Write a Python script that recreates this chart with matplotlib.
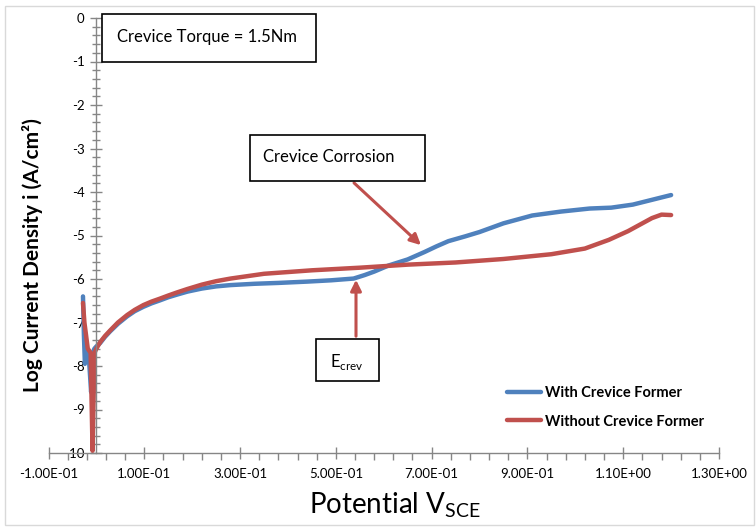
import numpy as np
import matplotlib.pyplot as plt
from matplotlib.patches import Rectangle, FancyArrowPatch
from matplotlib.ticker import MultipleLocator, FixedLocator, FuncFormatter

plt.rcParams['font.family'] = ['Lato', 'DejaVu Sans']
plt.rcParams['axes.unicode_minus'] = False

# Potential (V vs SCE) and log current density readings
v_with = [-0.028, -0.026, -0.024, -0.020, -0.016, -0.011, -0.008, -0.004, 0.000,
          0.008, 0.018, 0.029, 0.045, 0.064, 0.08, 0.098, 0.115, 0.133, 0.15, 0.168,
          0.19, 0.22, 0.25, 0.28, 0.33, 0.38, 0.44, 0.49, 0.537,
          0.56, 0.58, 0.61, 0.65, 0.685, 0.71, 0.735, 0.77, 0.80, 0.85, 0.91, 0.97,
          1.03, 1.075, 1.12, 1.16, 1.20]
i_with = [-6.4, -7.3, -7.95, -7.6, -7.75, -8.6, -7.7, -7.6, -7.55,
          -7.47, -7.33, -7.2, -7.03, -6.86, -6.74, -6.64, -6.56, -6.49, -6.42, -6.36,
          -6.29, -6.22, -6.17, -6.14, -6.11, -6.09, -6.06, -6.03, -5.99,
          -5.91, -5.83, -5.69, -5.55, -5.38, -5.25, -5.13, -5.02, -4.92, -4.72, -4.54, -4.45,
          -4.38, -4.36, -4.29, -4.18, -4.07]

v_without = [-0.028, -0.025, -0.018, -0.012, -0.008, -0.004, 0.000, 0.008, 0.018,
             0.029, 0.045, 0.064, 0.08, 0.098, 0.115, 0.133, 0.15, 0.168, 0.19, 0.22,
             0.25, 0.28, 0.35, 0.45, 0.55, 0.65, 0.75, 0.85, 0.95, 1.02, 1.07, 1.11,
             1.14, 1.16, 1.18, 1.20]
i_without = [-6.55, -7.0, -7.6, -7.7, -9.95, -7.7, -7.6, -7.45, -7.31,
             -7.18, -7.0, -6.83, -6.71, -6.6, -6.52, -6.45, -6.38, -6.31, -6.23, -6.13,
             -6.05, -5.99, -5.88, -5.8, -5.74, -5.67, -5.62, -5.54, -5.43, -5.3, -5.1, -4.9,
             -4.72, -4.6, -4.52, -4.53]

series_labels = ['With Crevice Former', 'Without Crevice Former']
blue, red = '#4F81BD', '#C0504D'
axis_grey = '#868686'

W, H = 756, 527
fig = plt.figure(figsize=(W/100, H/100), dpi=100)
ax = fig.add_axes([48.5/W, 1-453/H, (719-48.5)/W, (453-18)/H])

def fx(px):
    return px / W

def fy(py):
    return 1 - py / H

ax.plot(v_with, i_with, color=blue, lw=3.2, solid_capstyle='round', solid_joinstyle='round',
        label=series_labels[0])
ax.plot(v_without, i_without, color=red, lw=3.2, solid_capstyle='round', solid_joinstyle='round',
        label=series_labels[1])

ax.set_xlim(-0.1, 1.3)
ax.set_ylim(-10, 0)
ax.spines['left'].set_position(('data', 0))
ax.spines['top'].set_visible(False)
ax.spines['right'].set_visible(False)
for s in ['left', 'bottom']:
    ax.spines[s].set_color(axis_grey)
    ax.spines[s].set_linewidth(1.0)

ax.xaxis.set_major_locator(FixedLocator(np.arange(-0.1, 1.31, 0.2)))
ax.xaxis.set_minor_locator(FixedLocator(np.arange(-0.1, 1.31, 0.04)))
ax.xaxis.set_major_formatter(FuncFormatter(lambda x, p: '%.2E' % x))
ax.yaxis.set_major_locator(MultipleLocator(1))
ax.yaxis.set_minor_locator(MultipleLocator(0.2))
ax.yaxis.set_major_formatter(FuncFormatter(lambda y, p: '%d' % round(y)))
ax.tick_params(axis='both', which='major', direction='inout', length=9, width=1,
               color=axis_grey, labelsize=9.5, labelcolor='black')
ax.tick_params(axis='x', which='minor', direction='out', length=5, width=1, color=axis_grey)
ax.tick_params(axis='y', which='minor', direction='inout', length=6, width=1, color=axis_grey)
ax.tick_params(axis='x', which='major', pad=6)
ax.tick_params(axis='y', which='major', pad=4)

fig.text(fx(395), fy(505), r'Potential V$_{\mathregular{SCE}}$', fontsize=20,
         ha='center', va='center')
fig.text(fx(33), fy(255), 'Log Current Density i (A/cm²)', fontsize=15,
         fontweight='bold', rotation=90, ha='center', va='center')

# text boxes
def box(x0, y0, x1, y1):
    fig.patches.append(Rectangle((fx(x0), fy(y1)), fx(x1) - fx(x0), fy(y0) - fy(y1),
                                 transform=fig.transFigure, fill=True, facecolor='white',
                                 edgecolor='black', lw=1.2, zorder=5))

box(102, 14, 316, 62)
fig.text(fx(117), fy(37), 'Crevice Torque = 1.5Nm', fontsize=12, ha='left', va='center', zorder=6)
box(250, 135, 425, 181)
fig.text(fx(263), fy(157), 'Crevice Corrosion', fontsize=12, ha='left', va='center', zorder=6)
box(316, 339, 379, 381)
fig.text(fx(330), fy(362), r'E$_{\mathregular{crev}}$', fontsize=12, ha='left', va='center', zorder=6)

def arrow(x0, y0, x1, y1):
    fig.patches.append(FancyArrowPatch((fx(x0), fy(y0)), (fx(x1), fy(y1)),
                                       transform=fig.transFigure, arrowstyle='-|>',
                                       mutation_scale=16, color=red, lw=2.2, zorder=4))

arrow(352, 181, 423, 247)
arrow(356, 339, 356, 277)

ax.legend(loc='upper left', bbox_to_anchor=(fx(507), fy(386)), bbox_transform=fig.transFigure,
          frameon=False, handlelength=2.3, handletextpad=0.3,
          labelspacing=1.0, borderpad=0, borderaxespad=0,
          prop={'weight': 'bold', 'size': 10.5})

fig.patches.append(Rectangle((fx(5), fy(525)), fx(749), fy(6) - fy(525),
                             transform=fig.transFigure, fill=False,
                             edgecolor='#D9D9D9', lw=1.0))

fig.savefig('out.png', dpi=100)
